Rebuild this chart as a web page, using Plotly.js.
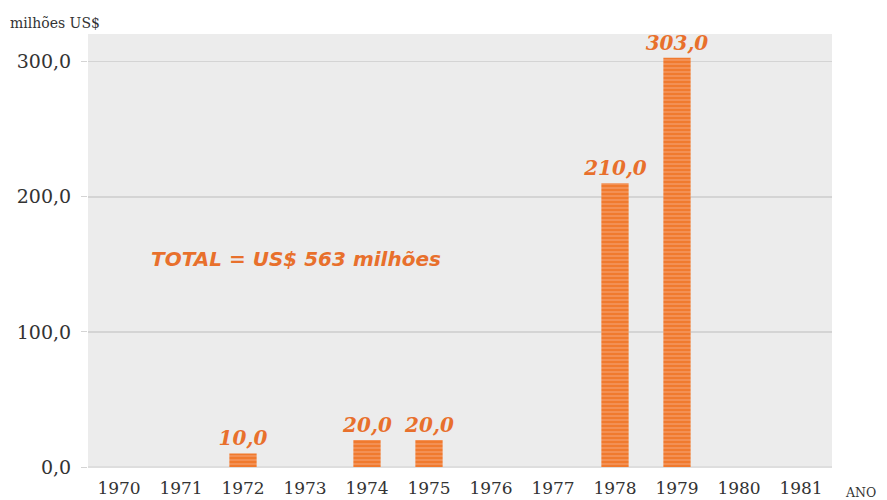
<!DOCTYPE html>
<html><head><meta charset="utf-8">
<script src="https://cdn.plot.ly/plotly-3.0.1.min.js"></script>
<style>body{margin:0;background:#fff}#c{width:887px;height:500px}</style>
</head><body><div id="c"></div>
<script>
const anos = ['1970','1971','1972','1973','1974','1975','1976','1977','1978','1979','1980','1981'];
const valores = [null, null, 10.0, null, 20.0, 20.0, null, null, 210.0, 303.0, null, null];
const yTicks = [0, 100, 200, 300];
const totalTexto = 'TOTAL = US$ 563 milhões';

const orange = '#f07a2e';
const textOrange = '#e8702c';

const trace = {
  type: 'bar', x: anos, y: valores,
  width: 0.44,
  marker: {color: orange, line: {width: 0},
    pattern: {shape: '-', fgcolor: '#f7a67a', bgcolor: orange, size: 4, solidity: 0.25}},
  texttemplate: '%{y:.1f}', textposition: 'outside', cliponaxis: false, constraintext: 'none',
  textfont: {family: 'DejaVu Serif', size: 20, color: textOrange, weight: 'bold', style: 'italic'},
  hoverinfo: 'none'
};

const layout = {
  width: 887, height: 500,
  margin: {l: 88, r: 55, t: 34, b: 33},
  paper_bgcolor: '#ffffff', plot_bgcolor: '#ececec',
  separators: ',.',
  showlegend: false,
  bargap: 0.56,
  xaxis: {type: 'category', tickfont: {family: 'DejaVu Serif', size: 17, color: '#333'},
    showgrid: false, zeroline: false, showline: false, ticks: '', ticklen: 0, ticklabelstandoff: 9},
  yaxis: {range: [0, 320.5], tickvals: yTicks, tickformat: '.1f',
    tickfont: {family: 'DejaVu Serif', size: 19, color: '#333'},
    gridcolor: '#d4d4d4', gridwidth: 1.5, zeroline: true, zerolinecolor: '#dedede', zerolinewidth: 1.5,
    ticks: 'outside', ticklen: 6, tickcolor: '#d4d4d4', showline: false, ticklabelstandoff: 6},
  annotations: [
    {text: 'milhões US$', xref: 'paper', yref: 'paper', x: -0.107, y: 1.026, xanchor: 'left', yanchor: 'middle',
     showarrow: false, font: {family: 'DejaVu Serif', size: 14, color: '#333'}},
    {text: 'ANO', xref: 'paper', yref: 'paper', x: 1.015, y: -0.06, xanchor: 'left', yanchor: 'middle',
     showarrow: false, font: {family: 'DejaVu Serif', size: 12.5, color: '#333'}},
    {text: totalTexto, xref: 'x', yref: 'y', x: 2.85, y: 154, xanchor: 'center', yanchor: 'middle',
     showarrow: false, font: {family: 'DejaVu Sans', size: 20, color: textOrange, weight: 'bold', style: 'italic'}}
  ]
};
Plotly.newPlot('c', [trace], layout, {displayModeBar: false, staticPlot: true});
</script></body></html>
